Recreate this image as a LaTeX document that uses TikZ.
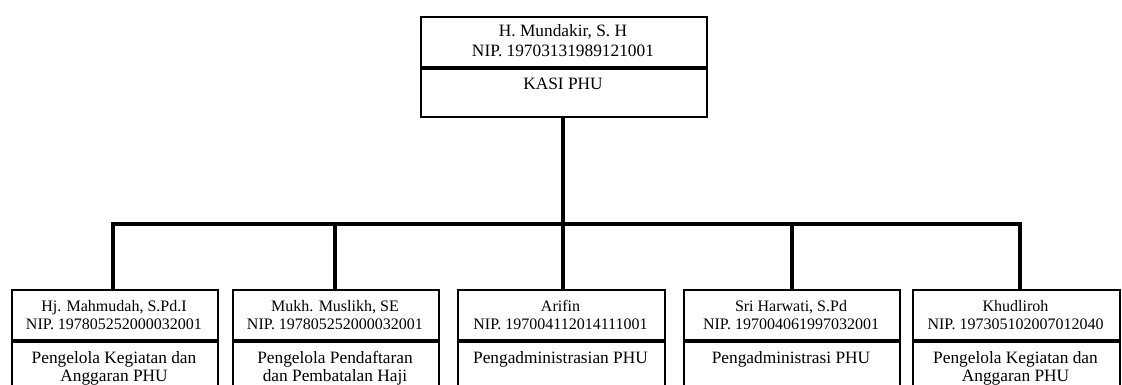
\documentclass[tikz,border=0pt]{standalone}
\usepackage{fontspec}
\setmainfont{Liberation Serif}
\begin{document}
\begin{tikzpicture}[x=0.75pt,y=-0.75pt,
  boxline/.style={draw=black,line width=1.6pt,fill=none},
  divline/.style={draw=black,line width=2.6pt},
  conn/.style={draw=black,line width=2.6pt,line cap=rect},
  nmtxt/.style={anchor=base,inner sep=0pt,font=\fontsize{12}{14}\selectfont},
  roletxt/.style={anchor=base,inner sep=0pt,font=\fontsize{13}{15}\selectfont},
  toptxt/.style={anchor=base,inner sep=0pt,font=\fontsize{13}{15}\selectfont}]
\useasboundingbox (0,0) rectangle (1122,385);
% top box
\node[boxline,minimum width=286*0.75pt,minimum height=50*0.75pt,inner sep=0pt,anchor=north west] (topname) at (420,16) {};
\node[boxline,minimum width=286*0.75pt,minimum height=50*0.75pt,inner sep=0pt,anchor=north west] (toprole) at (420,66) {};
\draw[divline] (topname.south west) -- (topname.south east);
\node[toptxt] (t1) at (563,37) {H. Mundakir, S. H};
\node[toptxt] (t2) at (563,57) {NIP. 19703131989121001};
\node[toptxt] (t3) at (563,90) {KASI PHU};
% bus coordinates
\coordinate (b1) at (113,224);
\coordinate (b2) at (335,224);
\coordinate (b3) at (563,224);
\coordinate (b4) at (792,224);
\coordinate (b5) at (1020,224);
% bottom boxes
\foreach \i/\l/\r in {1/11/217,2/232/438,3/457/664,4/683/899,5/912/1119}{
  \node[boxline,minimum width={(\r-\l)*0.75pt},minimum height=50*0.75pt,inner sep=0pt,anchor=north west] (n\i) at (\l,289) {};
  \node[boxline,minimum width={(\r-\l)*0.75pt},minimum height=70*0.75pt,inner sep=0pt,anchor=north west] (r\i) at (\l,339) {};
  \draw[divline] (n\i.south west) -- (n\i.south east);
}
% connectors
\draw[conn] (toprole.south -| b3) -- (b3);
\draw[conn] (b1) -- (b5);
\foreach \i in {1,...,5}{
  \draw[conn] (b\i) -- (b\i |- n\i.north);
}
% texts
\node[nmtxt] (a1) at (114,311) {Hj. Mahmudah, S.Pd.I};
\node[nmtxt] (a2) at (114,329) {NIP. 197805252000032001};
\node[roletxt] (a3) at (114,363) {Pengelola Kegiatan dan};
\node[roletxt] (a4) at (114,381) {Anggaran PHU};
\node[nmtxt] (c1) at (335,311) {Mukh. Muslikh, SE};
\node[nmtxt] (c2) at (335,329) {NIP. 197805252000032001};
\node[roletxt] (c3) at (335,363) {Pengelola Pendaftaran};
\node[roletxt] (c4) at (335,381) {dan Pembatalan Haji};
\node[nmtxt] (d1) at (560.5,311) {Arifin};
\node[nmtxt] (d2) at (560.5,329) {NIP. 197004112014111001};
\node[roletxt] (d3) at (560.5,363) {Pengadministrasian PHU};
\node[nmtxt] (e1) at (791,311) {Sri Harwati, S.Pd};
\node[nmtxt] (e2) at (791,329) {NIP. 197004061997032001};
\node[roletxt] (e3) at (791,363) {Pengadministrasi PHU};
\node[nmtxt] (f1) at (1015.5,311) {Khudliroh};
\node[nmtxt] (f2) at (1015.5,329) {NIP. 197305102007012040};
\node[roletxt] (f3) at (1015.5,363) {Pengelola Kegiatan dan};
\node[roletxt] (f4) at (1015.5,381) {Anggaran PHU};
\end{tikzpicture}
\end{document}
